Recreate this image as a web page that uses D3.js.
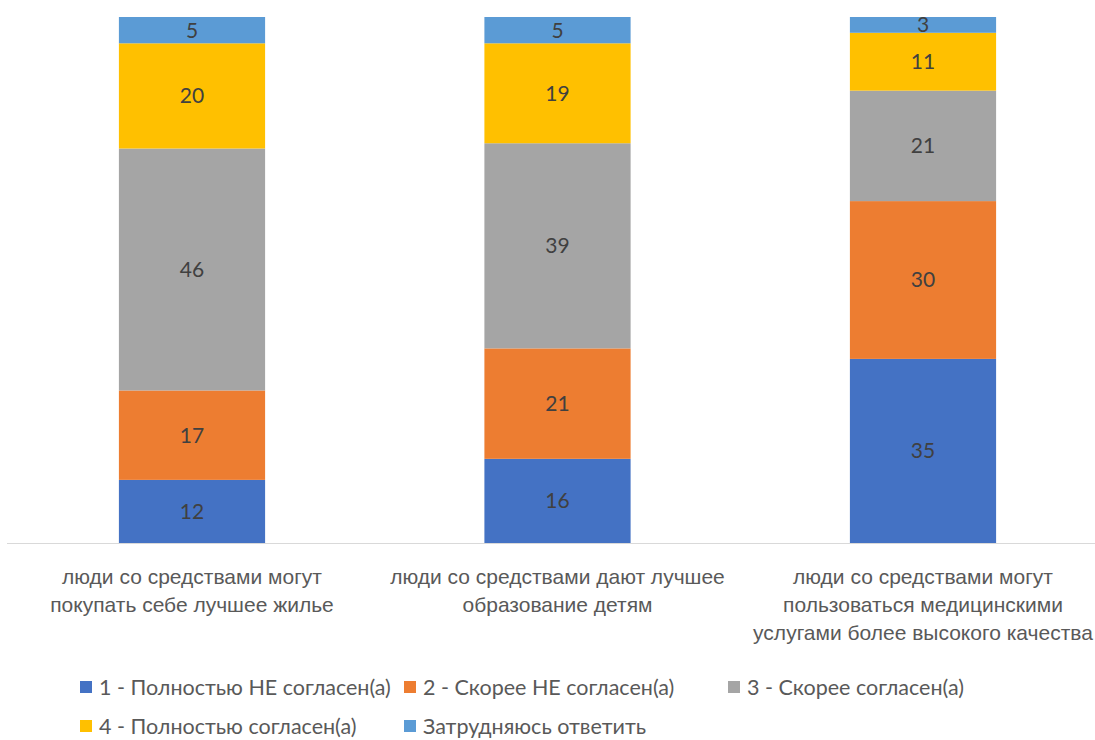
<!DOCTYPE html>
<html>
<head>
<meta charset="utf-8">
<script src="https://cdn.jsdelivr.net/npm/d3@7"></script>
<style>
  body { margin: 0; background: #fff; }
  svg { display: block; font-family: Lato, "Open Sans", sans-serif; }
</style>
</head>
<body>
<svg id="chart"></svg>
<script>
const categories = [
  "люди со средствами могут\nпокупать себе лучшее жилье",
  "люди со средствами дают лучшее\nобразование детям",
  "люди со средствами могут\nпользоваться медицинскими\nуслугами более высокого качества"
];
const seriesNames = [
  "1 - Полностью НЕ согласен(а)",
  "2 - Скорее НЕ согласен(а)",
  "3 - Скорее согласен(а)",
  "4 - Полностью согласен(а)",
  "Затрудняюсь ответить"
];
const fullyDisagree = [12, 16, 35];
const ratherDisagree = [17, 21, 30];
const ratherAgree = [46, 39, 21];
const fullyAgree = [20, 19, 11];
const hardToSay = [5, 5, 3];
const colors = ["#4472C4", "#ED7D31", "#A5A5A5", "#FFC000", "#5B9BD5"];

const width = 1095, height = 740;
const margin = { top: 17, bottom: 197 };

const seriesValues = [fullyDisagree, ratherDisagree, ratherAgree, fullyAgree, hardToSay];
const rows = categories.map((c, i) => {
  const r = { cat: c };
  seriesNames.forEach((s, j) => r[s] = seriesValues[j][i]);
  return r;
});

const svg = d3.select("#chart").attr("width", width).attr("height", height);

const x = d3.scaleBand()
  .domain(categories)
  .range([9.25, 1105.75])
  .paddingInner(0.6)
  .paddingOuter(0.3);

const y = d3.scaleLinear()
  .domain([0, 100])
  .range([height - margin.bottom, margin.top]);

const stacked = d3.stack().keys(seriesNames)(rows);

const layer = svg.selectAll("g.layer")
  .data(stacked)
  .join("g")
  .attr("class", "layer")
  .attr("fill", (d, i) => colors[i]);

layer.selectAll("rect")
  .data(d => d)
  .join("rect")
  .attr("x", d => x(d.data.cat))
  .attr("y", d => y(d[1]))
  .attr("width", x.bandwidth())
  .attr("height", d => y(d[0]) - y(d[1]));

layer.selectAll("text")
  .data(d => d)
  .join("text")
  .attr("x", d => x(d.data.cat) + x.bandwidth() / 2)
  .attr("y", d => (y(d[0]) + y(d[1])) / 2)
  .attr("dy", "0.35em")
  .attr("text-anchor", "middle")
  .attr("fill", "#404040")
  .style("font-size", "21px")
  .text(d => d[1] - d[0]);

// X-Axis
const gx = svg.append("g")
  .attr("transform", `translate(0,${height - margin.bottom})`)
  .call(d3.axisBottom(x).tickSize(0).tickSizeOuter(0).tickFormat(""));

gx.select(".domain").attr("stroke", "#d9d9d9").attr("d", "M7,0.5H1095");

gx.selectAll(".tick text").remove();
gx.selectAll(".tick").each(function (d) {
  const t = d3.select(this).append("text")
    .attr("text-anchor", "middle")
    .attr("fill", "#595959")
    .style("font-size", "21px")
    .attr("y", 41);
  d.split("\n").forEach((line, i) => {
    t.append("tspan").attr("x", 0).attr("dy", i ? 28 : 0).text(line);
  });
});

// Legend
const legendPos = [[80, 687], [404, 687], [728, 687], [80, 726], [404, 726]];
const legend = svg.append("g")
  .selectAll("g")
  .data(seriesNames)
  .join("g")
  .attr("transform", (d, i) => `translate(${legendPos[i][0]},${legendPos[i][1]})`);

legend.append("rect")
  .attr("x", 0).attr("y", -6)
  .attr("width", 12).attr("height", 12)
  .attr("fill", (d, i) => colors[i]);

legend.append("text")
  .attr("x", 19)
  .attr("dy", "0.35em")
  .attr("fill", "#595959")
  .style("font-size", "21.5px")
  .text(d => d);
</script>
</body>
</html>
